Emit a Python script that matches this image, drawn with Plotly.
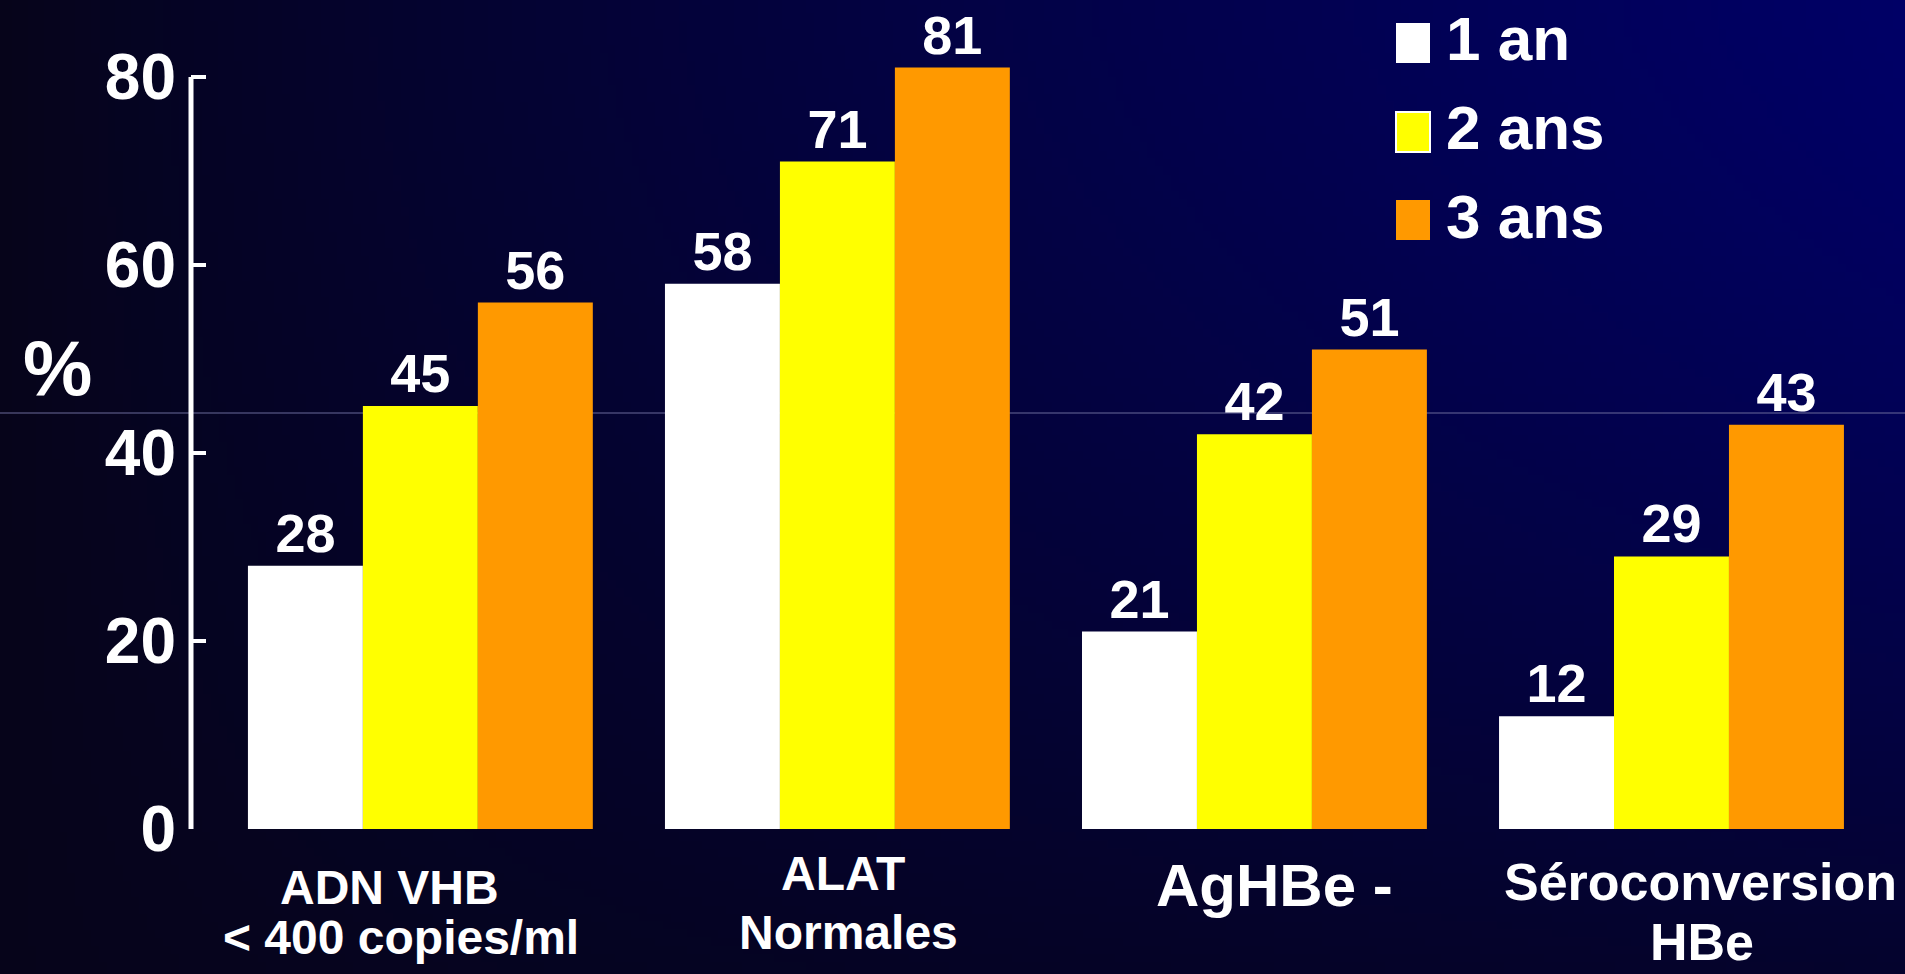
import base64
import struct
import zlib

import plotly.graph_objects as go

# ---- data ----
categories = ["ADN VHB", "ALAT", "AgHBe -", "Séroconversion"]
series_names = ["1 an", "2 ans", "3 ans"]
values_1an = [28, 58, 21, 12]
values_2ans = [45, 71, 42, 29]
values_3ans = [56, 81, 51, 43]
series_values = [values_1an, values_2ans, values_3ans]
y_ticks = [0, 20, 40, 60, 80]
category_lines = [["ADN VHB", "&lt; 400 copies/ml"], ["ALAT", "Normales"],
                  ["AgHBe -"], ["Séroconversion", "HBe"]]

# ---- styling ----
W, H = 1905, 974
ML, MR, MT, MB = 191, 25, 5, 145
PW, PH = W - ML - MR, H - MT - MB
colors = ["#FFFFFF", "#FFFF00", "#FF9900"]
FONT = "Liberation Sans, Arial, Helvetica, sans-serif"
Y_MAX = PH / 9.4


def px_x(px):
    return (px - ML) / PW


def px_y(py):
    return (H - MB - py) / PH


def gradient_png(w=240, h=120):
    dark = (6, 4, 26)
    navy = (0, 0, 102)
    rows = b""
    for j in range(h):
        yf = j / (h - 1)
        row = bytearray([0])
        for i in range(w):
            xf = i / (w - 1)
            t = (xf ** 0.85) * (1 - 0.75 * yf ** 1.5)
            row += bytes(int(round(d + (n - d) * t)) for d, n in zip(dark, navy))
        rows += bytes(row)

    def chunk(tag, data):
        c = struct.pack(">I", len(data)) + tag + data
        return c + struct.pack(">I", zlib.crc32(tag + data) & 0xFFFFFFFF)

    png = b"\x89PNG\r\n\x1a\n"
    png += chunk(b"IHDR", struct.pack(">IIBBBBB", w, h, 8, 2, 0, 0, 0))
    png += chunk(b"IDAT", zlib.compress(rows, 9))
    png += chunk(b"IEND", b"")
    return "data:image/png;base64," + base64.b64encode(png).decode()


fig = go.Figure()
for name, vals, col in zip(series_names, series_values, colors):
    fig.add_trace(go.Bar(
        x=categories, y=vals, name=name,
        marker=dict(color=col, line=dict(width=0)),
        text=[str(v) for v in vals], textposition="outside",
        textfont=dict(family=FONT, size=54, color="white", weight="bold"),
        cliponaxis=False, showlegend=False,
    ))

shapes = [
    # vertical axis line from 0 to 80
    dict(type="line", xref="paper", yref="y", x0=0, x1=0, y0=0, y1=y_ticks[-1],
         line=dict(color="white", width=5)),
    # faint band edge across the background
    dict(type="line", xref="paper", yref="paper", x0=px_x(0), x1=px_x(W),
         y0=px_y(413), y1=px_y(413), line=dict(color="#6a6a9a", width=1),
         layer="below"),
]

annotations = [
    dict(text="%", xref="paper", yref="paper", x=px_x(57), y=px_y(368),
         showarrow=False, xanchor="center", yanchor="middle",
         font=dict(family=FONT, size=78, color="white", weight="bold")),
]

# custom legend
legend_rows = [(23, 63), (112, 152), (200, 240)]
for (name, col, (top, bottom)) in zip(series_names, colors, legend_rows):
    shapes.append(dict(
        type="rect", xref="paper", yref="paper",
        x0=px_x(1396), x1=px_x(1430), y0=px_y(bottom), y1=px_y(top),
        fillcolor=col,
        line=dict(color="white", width=2 if col == "#FFFF00" else 0)))
    annotations.append(dict(
        text=name, xref="paper", yref="paper", x=px_x(1444),
        y=px_y((top + bottom) / 2 - 4), showarrow=False,
        xanchor="left", yanchor="middle",
        font=dict(family=FONT, size=62, color="white", weight="bold")))

# category labels below the groups
label_layout = [
    [(389, 887, 48), (401, 937, 48)],
    [(843, 873, 48), (848, 932, 48)],
    [(1274, 886, 60)],
    [(1700, 882, 52), (1702, 942, 52)],
]
for lines, places in zip(category_lines, label_layout):
    for txt, (cx, cy, fs) in zip(lines, places):
        annotations.append(dict(
            text=txt, xref="paper", yref="paper", x=px_x(cx), y=px_y(cy),
            showarrow=False, xanchor="center", yanchor="middle",
            font=dict(family=FONT, size=fs, color="white", weight="bold")))

fig.update_layout(
    width=W, height=H,
    margin=dict(l=ML, r=MR, t=MT, b=MB, pad=0),
    paper_bgcolor="#020020", plot_bgcolor="rgba(0,0,0,0)",
    barmode="group", bargap=0.173, bargroupgap=0,
    showlegend=False,
    shapes=shapes, annotations=annotations,
    images=[dict(source=gradient_png(), xref="paper", yref="paper",
                 x=px_x(0), y=px_y(0), sizex=W / PW, sizey=H / PH,
                 xanchor="left", yanchor="top", sizing="stretch",
                 layer="below")],
    xaxis=dict(type="category", range=[-0.55, 3.5], showticklabels=False,
               showgrid=False, zeroline=False, showline=False, ticks=""),
    yaxis=dict(range=[0, Y_MAX], tickvals=y_ticks, ticks="inside",
               ticklen=15, tickwidth=4, tickcolor="white",
               showgrid=False, zeroline=False, showline=False,
               ticklabelstandoff=14,
               tickfont=dict(family=FONT, size=64, color="white", weight="bold")),
)

fig.write_html("out.html")
